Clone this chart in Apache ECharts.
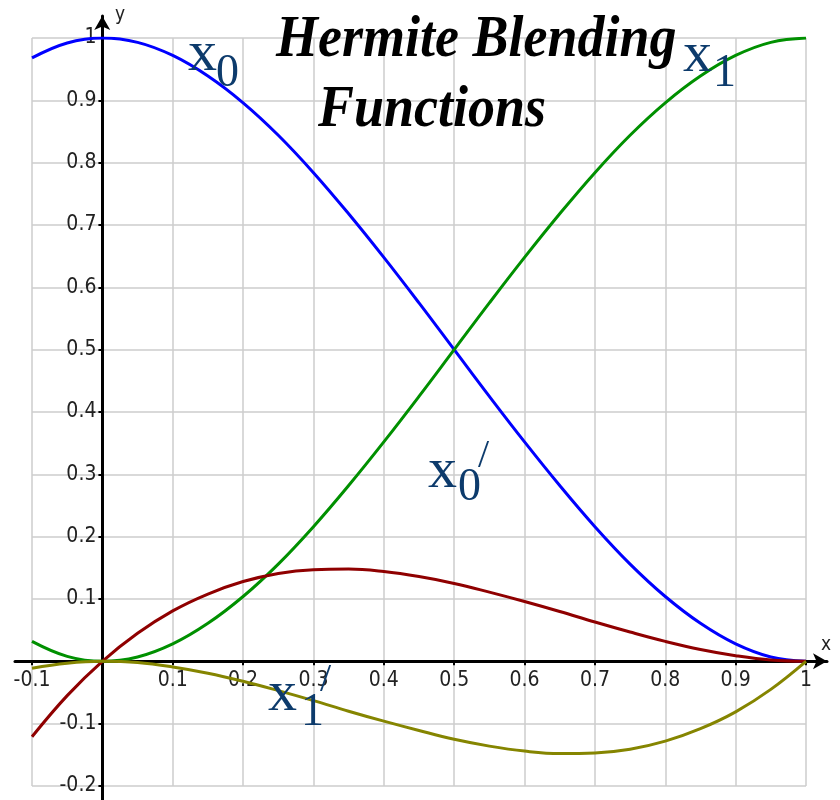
<!DOCTYPE html>
<html>
<head>
<meta charset="utf-8">
<title>Hermite Blending Functions</title>
<script src="https://cdn.jsdelivr.net/npm/echarts@6/dist/echarts.min.js"></script>
<style>
  html, body { margin: 0; padding: 0; background: #fff; }
  #chart { width: 840px; height: 800px; }
</style>
</head>
<body>
<div id="chart"></div>
<script>
// sample points along x
const xs  = [-0.1, -0.05, 0, 0.05, 0.1, 0.15, 0.2, 0.25, 0.3, 0.35, 0.4, 0.45, 0.5,
             0.55, 0.6, 0.65, 0.7, 0.75, 0.8, 0.85, 0.9, 0.95, 1];
// x0 (blue)
const x0  = [0.968, 0.992, 1, 0.993, 0.972, 0.939, 0.896, 0.844, 0.784, 0.718, 0.648, 0.575, 0.5,
             0.425, 0.352, 0.282, 0.216, 0.156, 0.104, 0.061, 0.028, 0.007, 0];
// x1 (green)
const x1  = [0.032, 0.008, 0, 0.007, 0.028, 0.061, 0.104, 0.156, 0.216, 0.282, 0.352, 0.425, 0.5,
             0.575, 0.648, 0.718, 0.784, 0.844, 0.896, 0.939, 0.972, 0.993, 1];
// x0' (dark red)
const x0d = [-0.121, -0.055, 0, 0.045, 0.081, 0.108, 0.128, 0.141, 0.147, 0.148, 0.144, 0.136, 0.125,
             0.111, 0.096, 0.080, 0.063, 0.047, 0.032, 0.019, 0.009, 0.002, 0];
// x1' (olive)
const x1d = [-0.011, -0.003, 0, -0.002, -0.009, -0.019, -0.032, -0.047, -0.063, -0.080, -0.096, -0.111, -0.125,
             -0.136, -0.144, -0.148, -0.147, -0.141, -0.128, -0.108, -0.081, -0.045, 0];

const labelFont = "'Liberation Sans Narrow', 'DejaVu Sans Condensed', sans-serif";
const serif = "'Liberation Serif', 'DejaVu Serif', serif";
const navy = '#0d3b6c';

const chart = echarts.init(document.getElementById('chart'));

function pairs(ys) {
    return xs.map((x, i) => [x, ys[i]]);
}

function tickLabel(v) {
    if (Math.abs(v) < 1e-9) return '';
    return String(Math.round(v * 10) / 10);
}

function curve(name, ys, color) {
    return {
        name: name,
        type: 'line',
        xAxisIndex: 0,
        yAxisIndex: 0,
        data: pairs(ys),
        smooth: 0.4,
        showSymbol: false,
        silent: true,
        z: 5,
        lineStyle: { color: color, width: 3 },
        itemStyle: { color: color }
    };
}

// glyph helper for the big "x" labels
function glyph(text, x, y, size) {
    return {
        type: 'text',
        x: x,
        y: y,
        z: 20,
        style: {
            text: text,
            font: size + 'px ' + serif,
            fill: navy,
            align: 'left',
            verticalAlign: 'middle'
        }
    };
}

// main grid: 32..806 px across (x -0.1..1), 38..786 px down (y 1..-0.2)
// the tick axes are shifted in by offset so they sit on x=0 / y=0
const option = {
    backgroundColor: '#fff',
    animation: false,
    grid: [
        { left: 32, right: 34, top: 38, bottom: 14, outerBoundsMode: 'none', containLabel: false },
        { left: 15, right: 13, top: 16, bottom: 0, outerBoundsMode: 'none', containLabel: false }
    ],
    xAxis: [
        {
            type: 'value',
            gridIndex: 0,
            position: 'bottom',
            offset: -124.7,
            min: -0.1,
            max: 1,
            interval: 0.1,
            axisLine: { show: false, onZero: false },
            axisTick: { show: true, length: 4, lineStyle: { color: '#000', width: 2 } },
            axisLabel: {
                formatter: tickLabel,
                margin: 9,
                color: '#222',
                fontSize: 21,
                fontFamily: labelFont
            },
            splitLine: { show: true, lineStyle: { color: '#cccccc', width: 1.5 } }
        },
        {
            type: 'value',
            gridIndex: 1,
            min: -0.124,
            max: 1.03,
            axisLine: {
                show: true,
                onZero: true,
                symbol: ['none', 'arrow'],
                symbolSize: [12, 14],
                lineStyle: { color: '#000', width: 3 }
            },
            axisTick: { show: false },
            axisLabel: { show: false },
            splitLine: { show: false }
        }
    ],
    yAxis: [
        {
            type: 'value',
            gridIndex: 0,
            position: 'left',
            offset: -70.4,
            min: -0.2,
            max: 1,
            interval: 0.1,
            axisLine: { show: false, onZero: false },
            axisTick: { show: true, length: 4, lineStyle: { color: '#000', width: 2 } },
            axisLabel: {
                formatter: tickLabel,
                margin: 6,
                padding: [7, 0, 0, 0],
                color: '#222',
                fontSize: 21,
                fontFamily: labelFont
            },
            splitLine: { show: true, lineStyle: { color: '#cccccc', width: 1.5 } }
        },
        {
            type: 'value',
            gridIndex: 1,
            min: -0.2225,
            max: 1.035,
            axisLine: {
                show: true,
                onZero: true,
                symbol: ['none', 'arrow'],
                symbolSize: [12, 14],
                lineStyle: { color: '#000', width: 3 }
            },
            axisTick: { show: false },
            axisLabel: { show: false },
            splitLine: { show: false }
        }
    ],
    series: [
        curve("x0", x0, '#0000ff'),
        curve("x1", x1, '#009000'),
        curve("x0'", x0d, '#8f0000'),
        curve("x1'", x1d, '#858500')
    ],
    graphic: [
        // title, two lines
        {
            type: 'text', x: 276, y: 41, scaleY: 1.1, z: 20,
            style: {
                text: 'Hermite Blending',
                font: 'italic bold 54px ' + serif,
                fill: '#000',
                align: 'left',
                verticalAlign: 'middle'
            }
        },
        {
            type: 'text', x: 318, y: 111, scaleY: 1.1, z: 20,
            style: {
                text: 'Functions',
                font: 'italic bold 54px ' + serif,
                fill: '#000',
                align: 'left',
                verticalAlign: 'middle'
            }
        },
        // axis names
        {
            type: 'text', x: 826, y: 645, z: 20,
            style: { text: 'x', font: '19px ' + labelFont, fill: '#222', align: 'center', verticalAlign: 'middle' }
        },
        {
            type: 'text', x: 120, y: 15, z: 20,
            style: { text: 'y', font: '19px ' + labelFont, fill: '#222', align: 'center', verticalAlign: 'middle' }
        },
        // x0
        glyph('x', 188, 55, 58),
        glyph('0', 216, 74, 46),
        // x1
        glyph('x', 683, 56, 58),
        glyph('1', 713, 74, 46),
        // x0'
        glyph('x', 428, 472, 58),
        glyph('0', 458, 488, 46),
        glyph('/', 478, 456, 40),
        // x1'
        glyph('x', 268, 695, 58),
        glyph('1', 301, 713, 46),
        glyph('/', 320, 680, 40)
    ]
};

chart.setOption(option);
</script>
</body>
</html>
